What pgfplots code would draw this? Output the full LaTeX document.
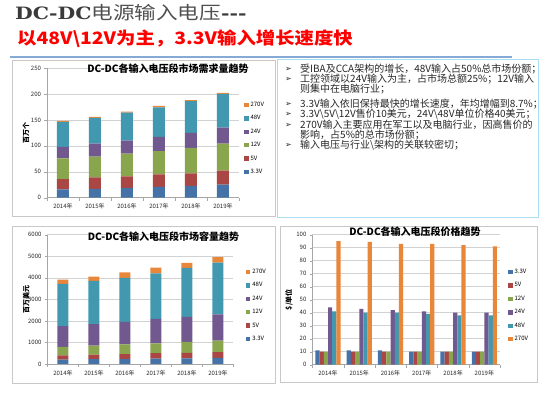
\documentclass[border=0pt]{standalone}
\usepackage{pgfplots}
\pgfplotsset{compat=1.18}
\usepackage{pgfplotstable}
\usepackage{graphicx}
\usepackage{fontspec}
\setmainfont{Noto Sans CJK SC}
\newfontfamily\serifbf{DejaVu Serif}
\newfontfamily\dejavu{DejaVu Sans}
\definecolor{c33}{HTML}{4572A7}
\definecolor{c5}{HTML}{AA4643}
\definecolor{c12}{HTML}{89A54E}
\definecolor{c24}{HTML}{71588F}
\definecolor{c48}{HTML}{4198AF}
\definecolor{c270}{HTML}{E8863A}
\definecolor{tgray}{HTML}{3A3A3A}
\definecolor{tgray2}{HTML}{505050}
\definecolor{tred}{HTML}{FF0000}
\definecolor{bline}{HTML}{85AAD6}
\definecolor{boxgray}{HTML}{C8C8C8}
\definecolor{boxblue}{HTML}{A8DDF2}
\newcommand{\bs}{\textbackslash{}}

\pgfplotstableread{
x a b c d e f
0 16 20 40 22 48 2
1 17 22 40 25 50 2
2 19 22 44 25 54 2
3 21 24 45 27 57 3
4 23 24 49 29 61 2
5 25 27 52 31 65 2
}\demand
\pgfplotstableread{
x a b c d e f
0 200 200 400 960 1960 200
1 230 200 420 1000 2010 200
2 230 230 450 1050 2040 250
3 250 250 460 1130 2120 260
4 260 260 510 1160 2270 230
5 290 260 540 1210 2400 260
}\capacity
\pgfplotstableread{
x a b c d e f
0 11 10 10 44 41 95
1 11 10 10 43 40 94.5
2 11 10 10 42 40 93
3 10 10 10 41 39 93
4 10 10 10 40 38 92
5 10 10 10 40 38 91
}\price

\pgfplotsset{
  excel/.style={
    scale only axis, axis lines*=left, axis line style={draw=gray!70,-},
    ymin=0, xmin=-0.5, xmax=5.5,
    xtick={0,...,5},
    xticklabels={2014年,2015年,2016年,2017年,2018年,2019年},
    minor xtick={-0.5,0.5,...,5.5},
    major x tick style={draw=none},
    minor x tick style={draw=gray!70},
    minor tick length=3pt, major tick length=2.5pt,
    y tick style={draw=gray!70},
    tick align=outside,
    ymajorgrids, grid style={draw=gray!35, line width=0.5pt},
    tick label style={font=\fontsize{6}{6}\selectfont, text=black!85},
    /pgf/number format/assume math mode=true,
    /pgf/number format/1000 sep={},
    clip=false,
    legend style={draw=none, fill=none, font=\fontsize{6}{6}\selectfont, row sep=3.5pt, anchor=north west},
    legend cell align=left,
    ylabel style={font=\bfseries\fontsize{7}{7}\selectfont, anchor=center},
    title style={font=\bfseries\fontsize{10}{10}\selectfont, anchor=center},
  },
  sqlegend/.style={legend image code/.code={\fill[##1] (0pt,-2.2pt) rectangle (4.4pt,2.2pt);}},
}

\begin{document}
\begin{tikzpicture}[x=1pt,y=1pt]
\path[use as bounding box] (0,0) rectangle (550,397);
% title
\node[anchor=west, inner sep=0] at (15,384) {\scalebox{1.2}[1]{{\serifbf\bfseries\fontsize{17}{17}\selectfont\color{tgray}DC-DC}{\fontsize{18}{18}\selectfont\color{tgray2}电源输入电压}{\serifbf\bfseries\fontsize{17}{17}\selectfont\color{tgray}---}}};
\node[anchor=west, inner sep=0] at (17,358.5) {\scalebox{1.14}[1]{\bfseries\fontsize{17}{17}\selectfont\color{tred}以48V\bs 12V为主，3.3V输入增长速度快}};
\draw[line width=2pt, bline] (10,339.5) -- (512,339.5);
% boxes
\draw[boxgray, line width=0.8pt] (12,181) rectangle (275,337);
\draw[boxgray, line width=0.8pt] (12,14) rectangle (275,171);
\draw[boxgray, line width=0.8pt] (280,15) rectangle (537,171);
\draw[boxblue, line width=0.8pt] (277,180) rectangle (538,338);
% text box
\begin{scope}[every node/.style={anchor=west, inner sep=0, font=\fontsize{10}{10}\selectfont, text=black!85}]
\node at (285,328) {\dejavu\fontsize{8}{8}\selectfont ➢};
\node at (300,328) {受IBA及CCA架构的增长，48V输入占50\%总市场份额；};
\node at (285,317.5) {\dejavu\fontsize{8}{8}\selectfont ➢};
\node at (300,317.5) {工控领域以24V输入为主，占市场总额25\%；12V输入};
\node at (300,307.5) {则集中在电脑行业；};
\node at (285,293) {\dejavu\fontsize{8}{8}\selectfont ➢};
\node at (300,293) {3.3V输入依旧保持最快的增长速度，年均增幅到8.7\%；};
\node at (285,282.5) {\dejavu\fontsize{8}{8}\selectfont ➢};
\node at (300,282.5) {3.3V\bs 5V\bs 12V售价10美元，24V\bs 48V单位价格40美元；};
\node at (285,272) {\dejavu\fontsize{8}{8}\selectfont ➢};
\node at (300,272) {270V输入主要应用在军工以及电脑行业，因高售价的};
\node at (300,261.5) {影响，占5\%的总市场份额；};
\node at (285,251.5) {\dejavu\fontsize{8}{8}\selectfont ➢};
\node at (300,251.5) {输入电压与行业\bs 架构的关联较密切；};
\end{scope}

% chart 1
\begin{axis}[excel, at={(47pt,199.3pt)}, anchor=south west, width=192pt, height=129.7pt,
  ymax=250, ytick={0,50,...,250}, ybar stacked, bar width=12pt,
  legend reversed, legend style={at={(axis description cs:1.01,0.77)}},
  ylabel={百万个}, ylabel style={at={(axis description cs:-0.11,0.5)}},
  title={DC-DC各输入电压段市场需求量趋势}, title style={at={(axis description cs:0.63,0.946)}}]
\addplot[fill=c33, draw=none, sqlegend] table[x=x,y=a]{\demand};
\addplot[fill=c5, draw=none, sqlegend] table[x=x,y=b]{\demand};
\addplot[fill=c12, draw=none, sqlegend] table[x=x,y=c]{\demand};
\addplot[fill=c24, draw=none, sqlegend] table[x=x,y=d]{\demand};
\addplot[fill=c48, draw=none, sqlegend] table[x=x,y=e]{\demand};
\addplot[fill=c270, draw=none, sqlegend] table[x=x,y=f]{\demand};
\legend{3.3V,5V,12V,24V,48V,270V}
\end{axis}

% chart 2
\begin{axis}[excel, at={(47.5pt,33pt)}, anchor=south west, width=186pt, height=129.3pt,
  ymax=6000, ytick={0,1000,...,6000}, ybar stacked, bar width=11pt,
  legend reversed, legend style={at={(axis description cs:1.05,0.766)}},
  ylabel={百万美元}, ylabel style={at={(axis description cs:-0.115,0.5)}},
  title={DC-DC各输入电压段市场容量趋势}, title style={at={(axis description cs:0.624,0.936)}}]
\addplot[fill=c33, draw=none, sqlegend] table[x=x,y=a]{\capacity};
\addplot[fill=c5, draw=none, sqlegend] table[x=x,y=b]{\capacity};
\addplot[fill=c12, draw=none, sqlegend] table[x=x,y=c]{\capacity};
\addplot[fill=c24, draw=none, sqlegend] table[x=x,y=d]{\capacity};
\addplot[fill=c48, draw=none, sqlegend] table[x=x,y=e]{\capacity};
\addplot[fill=c270, draw=none, sqlegend] table[x=x,y=f]{\capacity};
\legend{3.3V,5V,12V,24V,48V,270V}
\end{axis}

% chart 3
\begin{axis}[excel, at={(312.4pt,32.3pt)}, anchor=south west, width=187.6pt, height=130pt,
  ymax=100, ytick={0,10,...,100}, ybar=0pt, bar width=4.2pt,
  legend style={at={(axis description cs:1.027,0.767)}},
  ylabel={\$/单位}, ylabel style={at={(axis description cs:-0.125,0.5)}},
  title={DC-DC各输入电压段价格趋势}, title style={at={(axis description cs:0.547,0.975)}}]
\addplot[fill=c33, draw=none, sqlegend] table[x=x,y=a]{\price};
\addplot[fill=c5, draw=none, sqlegend] table[x=x,y=b]{\price};
\addplot[fill=c12, draw=none, sqlegend] table[x=x,y=c]{\price};
\addplot[fill=c24, draw=none, sqlegend] table[x=x,y=d]{\price};
\addplot[fill=c48, draw=none, sqlegend] table[x=x,y=e]{\price};
\addplot[fill=c270, draw=none, sqlegend] table[x=x,y=f]{\price};
\legend{3.3V,5V,12V,24V,48V,270V}
\end{axis}
\end{tikzpicture}
\end{document}
